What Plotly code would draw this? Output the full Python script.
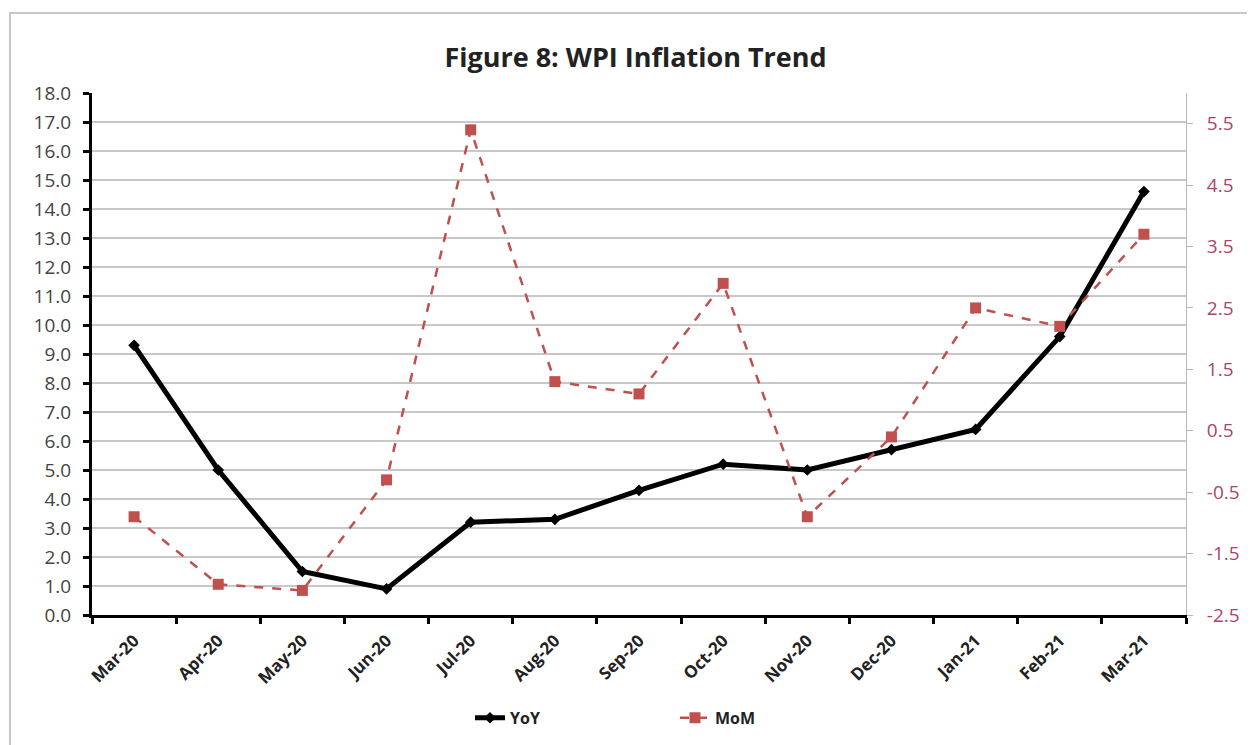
import plotly.graph_objects as go

months = ["Mar-20", "Apr-20", "May-20", "Jun-20", "Jul-20", "Aug-20", "Sep-20",
          "Oct-20", "Nov-20", "Dec-20", "Jan-21", "Feb-21", "Mar-21"]
yoy = [9.3, 5.0, 1.5, 0.9, 3.2, 3.3, 4.3, 5.2, 5.0, 5.7, 6.4, 9.6, 14.6]
mom = [-0.9, -2.0, -2.1, -0.3, 5.4, 1.3, 1.1, 2.9, -0.9, 0.4, 2.5, 2.2, 3.7]

left_ticks = [i * 1.0 for i in range(0, 19)]
left_labels = [f"{v:.1f}" for v in left_ticks]
right_ticks = [-2.5, -1.5, -0.5, 0.5, 1.5, 2.5, 3.5, 4.5, 5.5]
right_labels = [f"{v:.1f}" for v in right_ticks]

FONT = "Open Sans"
fig = go.Figure()
fig.add_trace(go.Scatter(
    x=months, y=yoy, name="YoY", mode="lines+markers",
    line=dict(color="black", width=5),
    marker=dict(symbol="diamond", size=9, color="black"),
    yaxis="y"))
fig.add_trace(go.Scatter(
    x=months, y=mom, name="MoM", mode="lines+markers",
    line=dict(color="#C0504D", width=2.5, dash="dash"),
    marker=dict(symbol="square", size=11, color="#C0504D"),
    yaxis="y2"))

fig.update_layout(
    width=1255, height=745,
    margin=dict(l=84, r=77, t=85, b=138),
    paper_bgcolor="white", plot_bgcolor="white",
    title=dict(text="<b>Figure 8: WPI Inflation Trend</b>", x=0.5, xref="container",
               y=1 - 50 / 745, yanchor="middle",
               font=dict(family=FONT, size=27, color="#222222")),
    font=dict(family=FONT),
    showlegend=True,
    legend=dict(orientation="h", x=(470 - 92) / 1094, xanchor="left",
                y=-0.197, yanchor="middle",
                font=dict(family=FONT, size=16, color="#222222", weight="bold"),
                entrywidth=160, entrywidthmode="pixels", tracegroupgap=0),
    xaxis=dict(type="category", showline=True, linecolor="black", linewidth=3,
               ticks="outside", tickson="boundaries", ticklen=6, tickwidth=3,
               tickcolor="black", tickangle=-45, showgrid=False,
               ticklabelstandoff=6,
               tickfont=dict(family=FONT, size=17, color="#222222", weight="bold"),
               mirror=False, range=[-0.5, 12.5]),
    yaxis=dict(range=[0, 18], tickvals=left_ticks, ticktext=left_labels,
               showline=True, linecolor="black", linewidth=3,
               ticks="outside", ticklen=6, tickwidth=3, tickcolor="black",
               showgrid=True, gridcolor="#c8c8c8", gridwidth=1.5,
               ticklabelstandoff=8,
               tickfont=dict(family=FONT, size=19, color="#444444"),
               zeroline=False),
    yaxis2=dict(range=[-2.5, 6.0], tickvals=right_ticks, ticktext=right_labels,
                overlaying="y", side="right", showline=True, linecolor="#b8b8b8",
                linewidth=1, ticks="outside", ticklen=6, tickwidth=1,
                tickcolor="#b8b8b8", showgrid=False, zeroline=False,
                ticklabelstandoff=10,
                tickfont=dict(family=FONT, size=19, color="#a8466a")),
    shapes=[dict(type="rect", xref="paper", yref="paper",
                 x0=(10 - 92) / 1094, x1=(1270 - 92) / 1094,
                 y0=-(760 - 615) / 522, y1=1 + (93 - 13) / 522,
                 line=dict(color="#c8c8c8", width=2), fillcolor="rgba(0,0,0,0)",
                 layer="below")],
)

fig.write_html("out.html")
